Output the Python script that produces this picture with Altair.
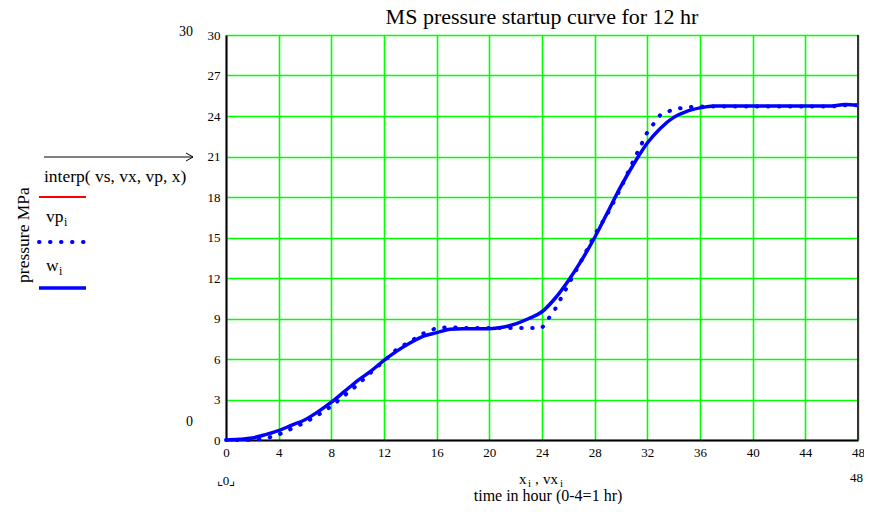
import altair as alt
import pandas as pd

hours = list(range(0, 49))
vp = [0, 0, 0, 0.1, 0.4, 0.85, 1.3, 1.85, 2.5, 3.3, 4.1, 5.0, 5.85, 6.75, 7.3, 7.9, 8.3,
      8.35, 8.3, 8.3, 8.3, 8.3, 8.3, 8.3, 8.3, 9.7, 11.5, 13.3, 15.2, 16.8, 18.7, 20.8,
      22.8, 24.1, 24.5, 24.65, 24.7, 24.7, 24.7, 24.7, 24.7, 24.7, 24.7, 24.7, 24.7,
      24.7, 24.7, 24.8, 24.8]
w = [0, 0.05, 0.15, 0.4, 0.7, 1.1, 1.5, 2.1, 2.8, 3.6, 4.4, 5.1, 5.9, 6.6, 7.2, 7.7, 7.95,
     8.2, 8.25, 8.25, 8.25, 8.35, 8.6, 9.0, 9.5, 10.5, 11.8, 13.3, 15.0, 16.9, 18.8, 20.5,
     22.0, 23.1, 23.9, 24.35, 24.6, 24.75, 24.75, 24.75, 24.75, 24.75, 24.75, 24.75,
     24.75, 24.75, 24.75, 24.85, 24.8]
x_ticks = list(range(0, 49, 4))
y_ticks = list(range(0, 31, 3))

df = pd.DataFrame({"t": hours, "vp": vp, "w": w})

W, H = 632, 405
SERIF = "Liberation Serif"
BLUE = "#0000ff"
GREEN = "#00ff00"

xs = alt.Scale(domain=[0, 48], nice=False, zero=False)
ys = alt.Scale(domain=[0, 30], nice=False)

xaxis = alt.Axis(values=x_ticks, title=None, grid=True, gridColor=GREEN, gridOpacity=1,
                 gridWidth=1.6, ticks=False, labelFont=SERIF, labelFontSize=13,
                 labelPadding=6, labelColor="black", domainColor="black", domainWidth=2,
                 labelFlush=False)
yaxis = alt.Axis(values=y_ticks, title=None, grid=True, gridColor=GREEN, gridOpacity=1,
                 gridWidth=1.6, ticks=False, labelFont=SERIF, labelFontSize=13,
                 labelPadding=6, labelColor="black", domainColor="black", domainWidth=2,
                 labelFlush=False)

base = alt.Chart(df)

dotted = base.mark_line(color=BLUE, strokeWidth=4, strokeCap="round",
                        strokeDash=[0.5, 10.5]).encode(
    x=alt.X("t:Q", scale=xs, axis=xaxis),
    y=alt.Y("vp:Q", scale=ys, axis=yaxis),
)
solid = base.mark_line(color=BLUE, strokeWidth=3.5, interpolate="monotone").encode(
    x=alt.X("t:Q", scale=xs),
    y=alt.Y("w:Q", scale=ys),
)

one = pd.DataFrame({"a": [0]})


def txt(s, x, y, size=14, align="left", angle=0, baseline="alphabetic"):
    kw = dict(text=s, font=SERIF, fontSize=size, align=align, baseline=baseline,
              color="black")
    if angle:
        kw["angle"] = angle
    return alt.Chart(one).mark_text(**kw).encode(x=alt.value(x), y=alt.value(y))


def rule(x1, y1, x2, y2, color="black", width=1, **kw):
    return alt.Chart(one).mark_rule(color=color, strokeWidth=width, **kw).encode(
        x=alt.value(x1), y=alt.value(y1), x2=alt.value(x2), y2=alt.value(y2))


right_edge = rule(W, 0, W, H, color="#333333", width=2)

annots = [
    txt("MS pressure startup curve for 12 hr", 316, -11, size=22, align="center"),
    txt("30", -33, 1, size=14, align="right"),
    txt("0", -33, 391, size=14, align="right"),
    txt("\u231e0\u231f", 0, 450, size=13, align="center"),
    txt("48", 637, 447, size=13, align="right"),
    # x axis title
    txt("x", 293, 449, size=15),
    txt("i", 302, 452, size=11),
    txt(",", 309, 449, size=15),
    txt("vx", 317, 449, size=15),
    txt("i", 334, 452, size=11),
    txt("time in hour (0-4=1 hr)", 322, 466, size=16, align="center"),
    # y axis title
    txt("pressure MPa", -202, 200, size=17.5, align="center", angle=270,
        baseline="middle"),
    # legend
    rule(-182, 122, -33, 122),
    rule(-33, 122, -40, 118),
    rule(-33, 122, -40, 126),
    txt("interp( vs, vx, vp, x)", -182, 147, size=17.5),
    rule(-187, 162, -140, 162, color="#ff0000", width=2),
    txt("vp", -180, 187, size=17.5),
    txt("i", -162, 191, size=12),
    rule(-187, 207, -140, 207, color=BLUE, width=4, strokeCap="round",
         strokeDash=[0.5, 10.5]),
    txt("w", -180, 236, size=17.5),
    txt("i", -167, 240, size=12),
    rule(-187, 253, -140, 253, color=BLUE, width=3.5),
]

chart = alt.layer(dotted, solid, right_edge, *annots).properties(
    width=W, height=H,
    autosize=alt.AutoSizeParams(type="none"),
    padding={"left": 218, "top": 27, "right": 6, "bottom": 64},
).configure_view(stroke=None).configure(background="white")

chart.save("out.html", embed_options={"renderer": "svg", "actions": False})
